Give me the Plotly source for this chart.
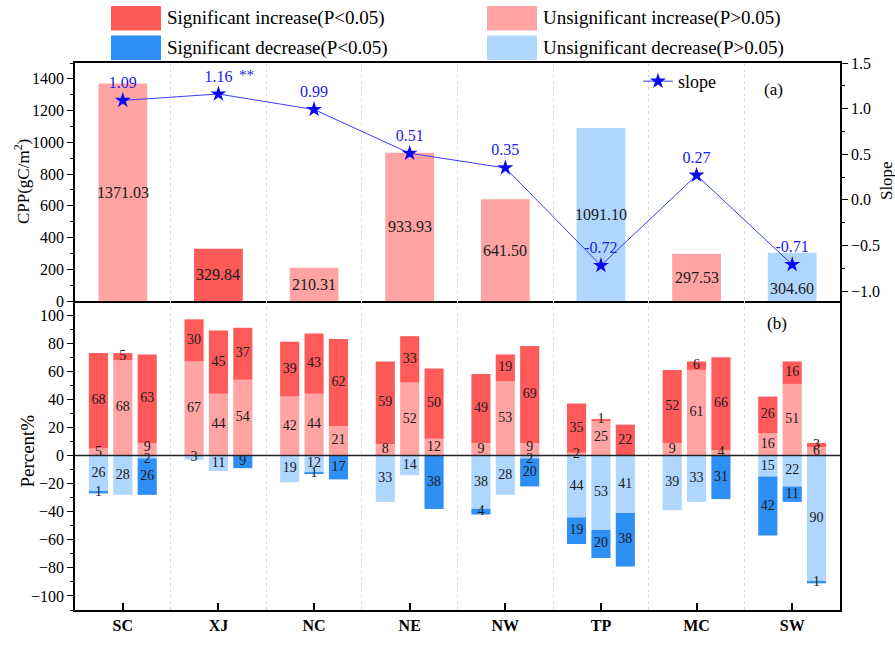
import plotly.graph_objects as go

# ---------------- data ----------------
regions = ["SC", "XJ", "NC", "NE", "NW", "TP", "MC", "SW"]

# panel (a): mean CPP per region and its trend class, plus trend slope
cpp = [1371.03, 329.84, 210.31, 933.93, 641.50, 1091.10, 297.53, 304.60]
cpp_class = ["ui", "si", "ui", "ui", "ui", "ud", "ui", "ud"]
slope = [1.09, 1.16, 0.99, 0.51, 0.35, -0.72, 0.27, -0.71]
slope_flag = ["", "**", "", "", "", "", "", ""]

# panel (b): percent of area per trend class, three bars per region (region-major order)
unsig_inc = [5, 68, 9, 67, 44, 54, 42, 44, 21, 8, 52, 12, 9, 53, 9, 2, 25, 0, 9, 61, 4, 16, 51, 6]
sig_inc = [68, 5, 63, 30, 45, 37, 39, 43, 62, 59, 33, 50, 49, 19, 69, 35, 1, 22, 52, 6, 66, 26, 16, 3]
unsig_dec = [26, 28, 2, 3, 11, 0, 19, 12, 0, 33, 14, 0, 38, 28, 2, 44, 53, 41, 39, 33, 0, 15, 22, 90]
sig_dec = [1, 0, 26, 0, 0, 9, 0, 1, 17, 0, 0, 38, 4, 0, 20, 19, 20, 38, 0, 0, 31, 42, 11, 1]

# ---------------- style ----------------
FONT = "Liberation Serif"
C = {"si": "#FF5A5A", "ui": "#FFA3A3", "sd": "#2E8FF5", "ud": "#AED6FF"}
LEG = [("si", "Significant increase(P<0.05)"), ("ui", "Unsignificant increase(P>0.05)"),
       ("sd", "Significant decrease(P<0.05)"), ("ud", "Unsignificant decrease(P>0.05)")]

W, H = 895, 646
ML, MR, MT, MB = 75, 55, 63, 27
PW, PH = W - ML - MR, H - MT - MB


def px(x):
    return (x - ML) / PW


def py(y):
    return (H - MB - y) / PH


split = py(305)
xs = list(range(len(regions)))
offsets = [-0.255, 0.0, 0.255]
bar_x = [i + o for i in xs for o in offsets]

fig = go.Figure()

# ---- panel (a) bars ----
fig.add_trace(go.Bar(x=xs, y=cpp, width=0.51, marker_color=[C[c] for c in cpp_class],
                     marker_line_width=0, xaxis="x", yaxis="y", showlegend=False, hoverinfo="skip"))

# ---- slope line on the secondary axis ----
fig.add_trace(go.Scatter(x=xs, y=slope, mode="lines+markers+text", name="slope",
                         line=dict(color="#3B3BFF", width=1),
                         marker=dict(symbol="star", size=12, color="#0A0AF0"),
                         text=[f"{s:.2f}" for s in slope], textposition="top center",
                         textfont=dict(family=FONT, size=16, color="#2020F0"),
                         xaxis="x", yaxis="y3", cliponaxis=False, hoverinfo="skip"))

# ---- panel (b) stacked bars ----
segments = [("ui", unsig_inc, 1), ("si", sig_inc, 1), ("ud", unsig_dec, -1), ("sd", sig_dec, -1)]
for key, vals, sign in segments:
    fig.add_trace(go.Bar(x=bar_x, y=[sign * v for v in vals], width=0.2, marker_color=C[key],
                         marker_line_width=0, xaxis="x2", yaxis="y2", showlegend=False,
                         hoverinfo="skip"))

# segment value labels at the middle of each segment; small labels on both
# sides of zero are pushed apart so they do not sit on top of each other
lab_x, lab_y, lab_t = [], [], []
for k in range(len(bar_x)):
    base_p, base_n = 0, 0
    mids = []
    for key, vals, sign in segments:
        v = vals[k]
        if sign > 0:
            mid = base_p + v / 2
            base_p += v
        else:
            mid = -(base_n + v / 2)
            base_n += v
        if v > 0:
            mids.append([mid, v, sign, base_p if sign > 0 else base_n])
    pos_near = [m for m in mids if m[2] > 0 and 0 < m[0] < 6]
    neg_near = [m for m in mids if m[2] < 0 and -6 < m[0] < 0]
    if pos_near and neg_near:
        pos_near[0][0] = max(pos_near[0][0], 5.5)
        neg_near[0][0] = min(neg_near[0][0], -2.5)
    for mid, v, sign, _ in mids:
        lab_x.append(bar_x[k])
        lab_y.append(mid)
        lab_t.append(str(v))
fig.add_trace(go.Scatter(x=lab_x, y=lab_y, text=lab_t, mode="text",
                         textfont=dict(family=FONT, size=14, color="#1A1A1A"),
                         xaxis="x2", yaxis="y2", showlegend=False, hoverinfo="skip",
                         cliponaxis=False))

annotations = []
# CPP values inside bars
for i, v in enumerate(cpp):
    shift = -12 if i == len(cpp) - 1 else 0
    annotations.append(dict(x=i, y=v / 2, xref="x", yref="y", text=f"{v:.2f}", showarrow=False,
                            yshift=shift, font=dict(family=FONT, size=16, color="#1A1A1A")))
# significance mark next to the slope label
for i, f in enumerate(slope_flag):
    if f:
        annotations.append(dict(x=i, y=slope[i], xref="x", yref="y3", text=f, showarrow=False,
                                xshift=28, yshift=19, font=dict(family=FONT, size=15, color="#2020F0")))

# axis titles and panel tags
title_kw = dict(xref="paper", yref="paper", showarrow=False, xanchor="center", yanchor="middle")
annotations += [
    dict(x=px(22), y=py(184), text="CPP(gC/m<sup>2</sup>)", textangle=-90,
         font=dict(family=FONT, size=17, color="black"), **title_kw),
    dict(x=px(28), y=py(458), text="Percent%", textangle=-90,
         font=dict(family=FONT, size=19, color="black"), **title_kw),
    dict(x=px(886), y=py(183), text="Slope", textangle=-90,
         font=dict(family=FONT, size=17, color="black"), **title_kw),
    dict(x=px(773), y=py(90), text="(a)", font=dict(family=FONT, size=17, color="black"), **title_kw),
    dict(x=px(777), y=py(328), text="(b)", font=dict(family=FONT, size=17, color="black"), **title_kw),
]

# top legend built from swatches and labels
shapes = []
for n, (key, label) in enumerate(LEG):
    col, row = n % 2, n // 2
    x0 = 111 + col * 376
    y0 = 5 + row * 30
    shapes.append(dict(type="rect", xref="paper", yref="paper", x0=px(x0), x1=px(x0 + 50),
                       y0=py(y0 + 25), y1=py(y0), fillcolor=C[key], line_width=0))
    annotations.append(dict(x=px(x0 + 54), y=py(y0 + 12.5), xref="paper", yref="paper",
                            text=label, showarrow=False, xanchor="left", yanchor="middle",
                            font=dict(family=FONT, size=19, color="black")))

# zero line of panel (b)
shapes.append(dict(type="line", xref="x2", yref="y2", x0=-0.5, x1=7.5, y0=0, y1=0,
                   line=dict(color="#222", width=1.6)))

grid_minor = dict(tickmode="array", tickvals=[i + 0.5 for i in xs[:-1]], showgrid=True,
                  gridcolor="#D9D9D9", griddash="dot", gridwidth=1, ticks="")
tickfont = dict(family=FONT, size=16, color="black")

fig.update_layout(
    width=W, height=H, margin=dict(l=ML, r=MR, t=MT, b=MB),
    paper_bgcolor="white", plot_bgcolor="white", barmode="relative",
    font=dict(family=FONT, color="black"),
    xaxis=dict(domain=[0, 1], range=[-0.5, 7.5], anchor="y", showticklabels=False,
               tickvals=xs, ticks="", showgrid=False, zeroline=False, minor=grid_minor,
               showline=True, linecolor="black", linewidth=1.5, mirror=True),
    yaxis=dict(domain=[split, 1], range=[0, 1500], anchor="x", tickvals=list(range(0, 1401, 200)),
               ticks="outside", ticklen=6, tickwidth=1.2, tickcolor="black", tickfont=tickfont,
               minor=dict(dtick=100, ticks="outside", ticklen=3, tickcolor="black"),
               showgrid=False, zeroline=False, showline=True, linecolor="black", linewidth=1.5),
    yaxis3=dict(overlaying="y", side="right", anchor="x", range=[-1.11, 1.5],
                tickvals=[-1.0, -0.5, 0.0, 0.5, 1.0, 1.5], tickformat=".1f",
                ticks="outside", ticklen=6, tickwidth=1.2, tickcolor="black", tickfont=tickfont,
                minor=dict(dtick=0.25, tick0=0, ticks="outside", ticklen=3, tickcolor="black"),
                showgrid=False, zeroline=False, showline=True, linecolor="black", linewidth=1.5),
    xaxis2=dict(domain=[0, 1], range=[-0.5, 7.5], anchor="y2", tickvals=xs,
                ticktext=[f"<b>{r}</b>" for r in regions], tickfont=tickfont,
                ticks="inside", ticklen=7, tickwidth=1.5, tickcolor="black",
                showgrid=False, zeroline=False, minor=grid_minor,
                showline=True, linecolor="black", linewidth=1.5, mirror=False),
    yaxis2=dict(domain=[0, split], range=[-110, 110], anchor="x2", tickvals=list(range(-100, 101, 20)),
                ticks="outside", ticklen=6, tickwidth=1.2, tickcolor="black", tickfont=tickfont,
                minor=dict(dtick=10, ticks="outside", ticklen=3, tickcolor="black"),
                showgrid=False, zeroline=False, showline=True, linecolor="black", linewidth=1.5,
                mirror=True),
    legend=dict(x=px(638), y=py(63), xanchor="left", yanchor="top", bgcolor="rgba(0,0,0,0)",
                font=dict(family=FONT, size=18, color="black"), itemwidth=30),
    annotations=annotations, shapes=shapes,
)

fig.write_html("out.html")
